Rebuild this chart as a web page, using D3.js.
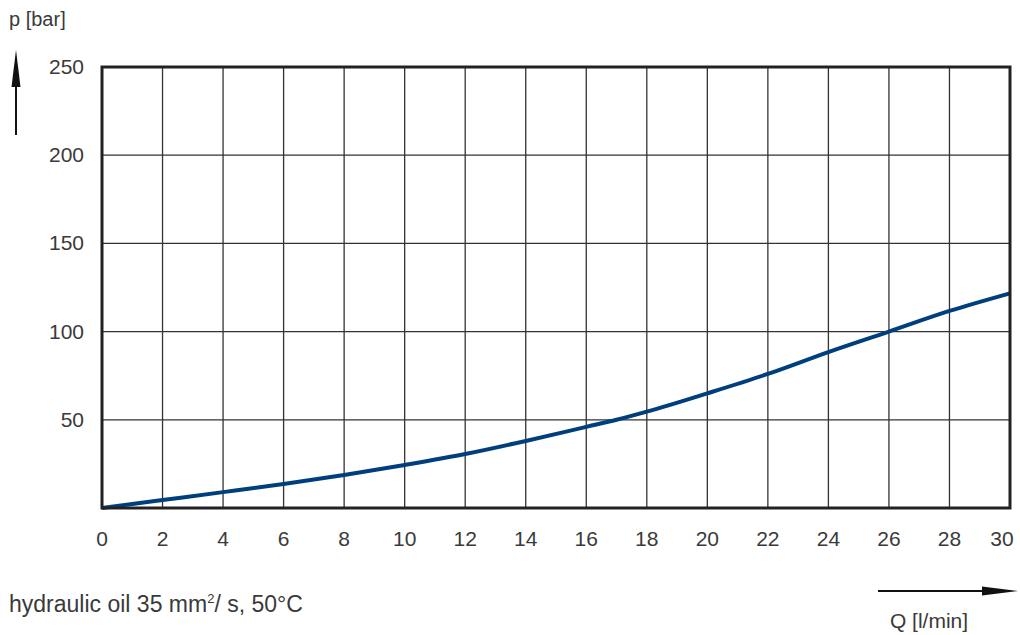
<!DOCTYPE html>
<html>
<head>
<meta charset="utf-8">
<script src="https://cdn.jsdelivr.net/npm/d3@7"></script>
<style>
  body { margin: 0; background: #fff; }
  text { font-family: "Liberation Sans", Arial, sans-serif; fill: #3a3a3a; }
</style>
</head>
<body>
<svg id="chart" width="1020" height="635"></svg>
<script>
// flow Q [l/min] vs pressure p [bar]
const flowQ = [0, 2, 4, 6, 8, 10, 12, 14, 16, 17, 18, 20, 22, 24, 26, 28, 30];
const pressure = [0, 4.5, 9, 13.6, 18.7, 24.4, 30.6, 38, 46, 50, 54.6, 65, 76, 88.4, 100, 111.7, 121.7];
const xTicks = d3.range(0, 31, 2);
const yTicks = [50, 100, 150, 200, 250];

const svg = d3.select("#chart");
const plotLeft = 102, plotRight = 1010, plotTop = 67, plotBottom = 508;

const x = d3.scaleLinear().domain([0, 30]).range([plotLeft, plotRight]);
const y = d3.scaleLinear().domain([0, 250]).range([plotBottom, plotTop]);

// grid
svg.append("g").selectAll("line")
  .data(xTicks.slice(1, -1))
  .enter().append("line")
  .attr("x1", d => x(d)).attr("x2", d => x(d))
  .attr("y1", plotTop).attr("y2", plotBottom)
  .style("stroke", "#333").style("stroke-width", 1.3);

svg.append("g").selectAll("line")
  .data(yTicks.slice(0, -1))
  .enter().append("line")
  .attr("x1", plotLeft).attr("x2", plotRight)
  .attr("y1", d => y(d)).attr("y2", d => y(d))
  .style("stroke", "#333").style("stroke-width", 1.3);

// curve
const line = d3.line()
  .x((d, i) => x(flowQ[i]))
  .y(d => y(d))
  .curve(d3.curveMonotoneX);

svg.append("path")
  .datum(pressure)
  .attr("d", line)
  .attr("fill", "none")
  .style("stroke", "#003f7d")
  .style("stroke-width", 4);

// frame
svg.append("rect")
  .attr("x", plotLeft).attr("y", plotTop)
  .attr("width", plotRight - plotLeft).attr("height", plotBottom - plotTop)
  .attr("fill", "none")
  .style("stroke", "#222").style("stroke-width", 3);

// tick labels (last one pulled in so it stays on the page)
svg.append("g").selectAll("text")
  .data(xTicks)
  .enter().append("text")
  .attr("x", d => Math.min(x(d), 1002)).attr("y", 546)
  .attr("text-anchor", "middle")
  .attr("font-size", "21px")
  .text(d => d);

svg.append("g").selectAll("text")
  .data(yTicks)
  .enter().append("text")
  .attr("x", 84).attr("y", d => y(d) + 7)
  .attr("text-anchor", "end")
  .attr("font-size", "21px")
  .text(d => d);

// axis titles and arrows
svg.append("text").attr("x", 9).attr("y", 26).attr("font-size", "20px").text("p [bar]");
svg.append("line").attr("x1", 16).attr("x2", 16).attr("y1", 135).attr("y2", 80)
  .style("stroke", "#111").style("stroke-width", 2);
svg.append("path").attr("d", "M16,50 L11.5,87 L20.5,87 Z").attr("fill", "#111");

svg.append("line").attr("x1", 878).attr("x2", 985).attr("y1", 591).attr("y2", 591)
  .style("stroke", "#111").style("stroke-width", 2);
svg.append("path").attr("d", "M1018,591 L982,586.5 L982,595.5 Z").attr("fill", "#111");
svg.append("text").attr("x", 929).attr("y", 628).attr("text-anchor", "middle")
  .attr("font-size", "21px").text("Q [l/min]");

const note = svg.append("text").attr("x", 9).attr("y", 612).attr("font-size", "23px");
note.append("tspan").text("hydraulic oil 35 mm");
note.append("tspan").attr("font-size", "13px").attr("dy", -9).text("2");
note.append("tspan").attr("dy", 9).text("/ s, 50°C");
</script>
</body>
</html>
